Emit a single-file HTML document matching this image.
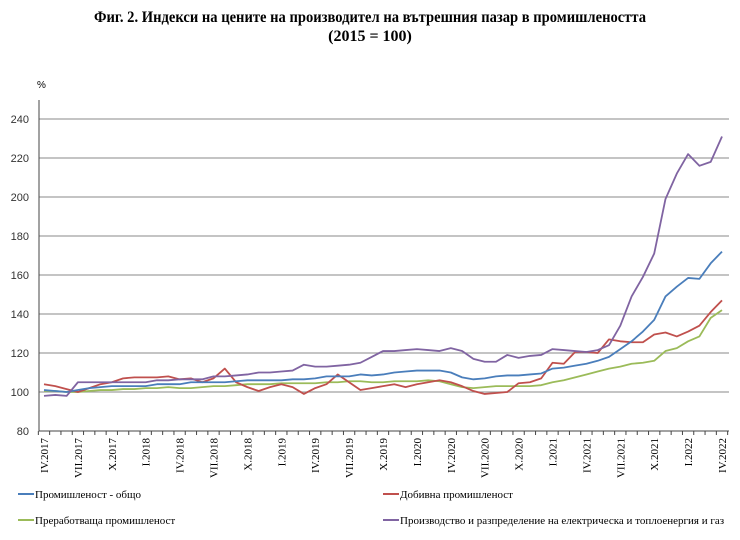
<!DOCTYPE html>
<html><head><meta charset="utf-8"><style>
body{margin:0;background:#fff;width:740px;height:540px;overflow:hidden}
svg{display:block}
</style></head><body>
<svg id="s" width="740" height="540" xmlns="http://www.w3.org/2000/svg" font-family="Liberation Serif, serif">
<text x="370" y="22" text-anchor="middle" font-size="16" font-weight="bold" textLength="552" lengthAdjust="spacingAndGlyphs">Фиг. 2. Индекси на цените на производител на вътрешния пазар в промишлеността</text>
<text x="370" y="41" text-anchor="middle" font-size="16" font-weight="bold">(2015 = 100)</text>
<text x="37" y="88" font-size="10" font-family="Liberation Sans, sans-serif">%</text>
<g id="g"></g>
</svg>
<script>
var ns="http://www.w3.org/2000/svg",g=document.getElementById("g");
function el(t,a,txt){var e=document.createElementNS(ns,t);for(var k in a)e.setAttribute(k,a[k]);if(txt)e.textContent=txt;g.appendChild(e);return e;}
function Y(v){return 431-(v-80)*1.95;}
function X(i){return 44+i*11.3;}
for(var v=80;v<=240;v+=20){
 if(v>80)el("line",{x1:39,x2:729,y1:Y(v),y2:Y(v),stroke:"#a0a0a0","stroke-width":1.2});
 el("text",{x:29,y:Y(v)+4,"text-anchor":"end","font-size":"11","font-family":"Liberation Sans, sans-serif",fill:"#333"},String(v));
}
el("line",{x1:39,x2:39,y1:100,y2:431,stroke:"#444","stroke-width":1});
el("line",{x1:39,x2:729,y1:431,y2:431,stroke:"#444","stroke-width":1});
for(var i=0;i<=61;i++){var x=X(i)-5.65;el("line",{x1:x,x2:x,y1:431,y2:435,stroke:"#444","stroke-width":1});}
var labs=["IV.2017","VII.2017","X.2017","I.2018","IV.2018","VII.2018","X.2018","I.2019","IV.2019","VII.2019","X.2019","I.2020","IV.2020","VII.2020","X.2020","I.2021","IV.2021","VII.2021","X.2021","I.2022","IV.2022"];
labs.forEach(function(l,k){var x=X(k*3)+4;el("text",{transform:"translate("+x+",438) rotate(-90)","text-anchor":"end","font-size":"11"},l);});
var blue=[101,100.5,100,101,102,102.5,103,103,103, 103,104,104,104,105,105,105,105,105.5,106,106,106, 106,106.5,106.5,107,108,108,108,109,108.5,109,110,110.5, 111,111,111,110,107.5,106.5,107,108,108.5,108.5,109,109.5, 112,112.5,113.5,114.5,116,118,122,126,131,137,149,154, 158.5,158,166,172];
var red=[104,103,101.5,100,102,104,105,107,107.5, 107.5,107.5,108,106.5,107,105,107,112,105,102.5,100.5,102.5, 104,102.5,99,102,104,109,105,101,102,103,104,102.5, 104,105,106,105,103,100.5,99,99.5,100,104.5,105,107, 115,114.5,120.5,120.5,120,127,126,125.5,125.5,129.5,130.5,128.5, 131,134,141,147];
var green=[100.5,100.5,100,100,100.5,101,101,101.5,101.5, 102,102,102.5,102,102,102.5,103,103,103.5,104,104,104, 104.5,104.5,104.5,104.5,105,105,105.5,105.5,105,105,105.5,105.5, 105.5,106,105.5,104,102.5,102,102.5,103,103,103,103,103.5, 105,106,107.5,109,110.5,112,113,114.5,115,116,121,122.5, 126,128.5,138,142];
var purple=[98,98.5,98,105,105,105,105,105,105, 105,106,106,106.5,106.5,106.5,108,108,108.5,109,110,110, 110.5,111,114,113,113,113.5,114,115,118,121,121,121.5, 122,121.5,121,122.5,121,117,115.5,115.5,119,117.5,118.5,119, 122,121.5,121,120.5,121.5,124,134,149,159,171,199,212, 222,216,218,231];
[[green,"#9bbb59"],[red,"#c0504d"],[blue,"#4a7ebb"],[purple,"#8064a2"]].forEach(function(s){
 el("polyline",{points:s[0].map(function(v,i){return X(i)+","+Y(v);}).join(" "),fill:"none",stroke:s[1],"stroke-width":1.8,"stroke-linejoin":"round"});
});
var leg=[["Промишленост - общо","#4a7ebb",18,494],["Добивна промишленост","#c0504d",383,494],["Преработваща промишленост","#9bbb59",18,520],["Производство и разпределение на електрическа и топлоенергия и газ","#8064a2",383,520]];
leg.forEach(function(l){el("line",{x1:l[2],x2:l[2]+16,y1:l[3],y2:l[3],stroke:l[1],"stroke-width":2});el("text",{x:l[2]+17,y:l[3]+4,"font-size":"11"},l[0]);});
</script>
</body></html>
